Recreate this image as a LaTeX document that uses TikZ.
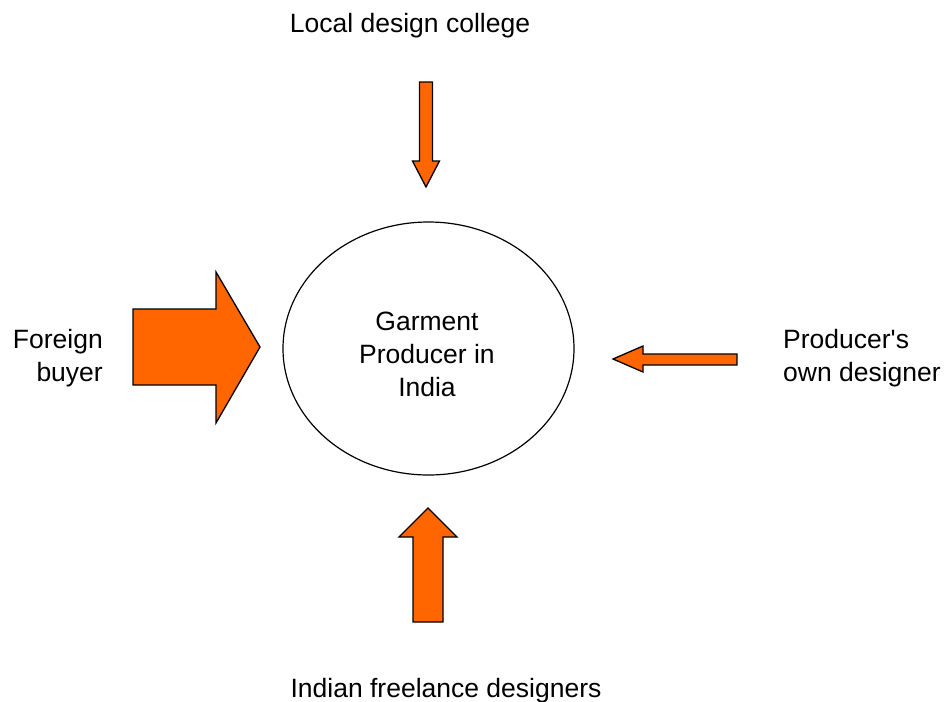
\documentclass[tikz,border=0pt]{standalone}
\usepackage{fontspec}
\setmainfont{Liberation Sans}[Ligatures=TeXOff]
\definecolor{arroworange}{RGB}{255,102,0}
\tikzset{
  blockarrow/.style={fill=arroworange, draw=black, line width=1.3pt, line join=miter},
  lbl/.style={inner sep=0pt, font=\fontsize{26.5}{33}\selectfont},
  hub/.style={draw=black, line width=1.2pt, ellipse, minimum width=291pt, minimum height=253pt, inner sep=0pt}
}
\usetikzlibrary{shapes.geometric}
\begin{document}
\begin{tikzpicture}[x=1pt,y=-1pt]
\useasboundingbox (0,0) rectangle (946,702);
% central ellipse
\node[hub] (hub) at (428.5,348.5) {};
\node[lbl, align=center, anchor=north] (hubtext) at (427,312.2) {Garment\\Producer in\\India};
% labels
\node[lbl, anchor=base] (college) at (410,32) {Local design college};
\node[lbl, anchor=base] (freelance) at (446,697) {Indian freelance designers};
\node[lbl, align=right, anchor=north east] (buyer) at (103,328.8) {Foreign\\buyer};
\node[lbl, align=left, anchor=north west] (own) at (783,329) {Producer's\\own designer};
% arrows
\draw[blockarrow] (133,309) -- (216,309) -- (216,272) -- (260,347) -- (216,423) -- (216,385) -- (133,385) -- cycle;
\draw[blockarrow] (419.5,82) -- (432.5,82) -- (432.5,161) -- (439.5,161) -- (426,187) -- (412.5,161) -- (419.5,161) -- cycle;
\draw[blockarrow] (737,354) -- (643,354) -- (643,346) -- (613,359) -- (643,372) -- (643,365) -- (737,365) -- cycle;
\draw[blockarrow] (413,622) -- (413,537) -- (399,537) -- (428,508) -- (457,537) -- (443,537) -- (443,622) -- cycle;
\end{tikzpicture}
\end{document}
